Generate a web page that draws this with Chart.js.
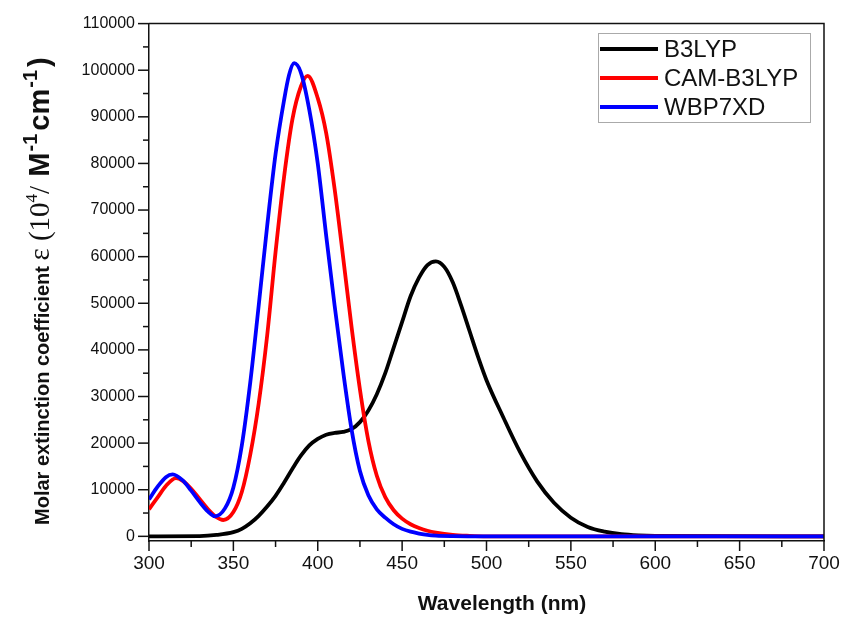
<!DOCTYPE html>
<html>
<head>
<meta charset="utf-8">
<script src="https://cdn.jsdelivr.net/npm/chart.js@4.4.1/dist/chart.umd.min.js"></script>
<style>
  body { margin: 0; background: #fff; }
</style>
</head>
<body>
<canvas id="spectra" width="841" height="617"></canvas>
<script>
// series names + colours
var seriesNames = ["B3LYP", "CAM-B3LYP", "WBP7XD"];
var seriesColors = ["#000000", "#ff0000", "#0000ff"];

// B3LYP
var wlB3 = [300, 330, 340, 350, 355, 360, 365, 370, 375, 380, 385, 390, 395, 400, 405, 410, 415, 420, 425, 430, 435, 440, 445, 450, 455, 460, 465, 470, 475, 480, 485, 490, 495, 500, 510, 520, 530, 540, 550, 560, 570, 580, 590, 600, 700];
var epsB3 = [0, 50, 300, 900, 1600, 2800, 4400, 6400, 8700, 11500, 14500, 17300, 19500, 20900, 21800, 22200, 22400, 23000, 24500, 27000, 30500, 35000, 40500, 46000, 51500, 55500, 58200, 59000, 57800, 54500, 49500, 44000, 38500, 33500, 25500, 18000, 11800, 7200, 4000, 2000, 1000, 450, 200, 100, 0];

// CAM-B3LYP
var wlCam = [300, 305, 310, 316, 320, 325, 330, 335, 340, 344, 350, 355, 360, 365, 370, 375, 380, 385, 390, 394, 400, 405, 410, 415, 420, 425, 430, 435, 440, 445, 450, 455, 460, 465, 470, 480, 490, 500, 700];
var epsCam = [5800, 8300, 10800, 12500, 11900, 10200, 8000, 5800, 4100, 3500, 5200, 9500, 17500, 28500, 43000, 61000, 77000, 89500, 96500, 98800, 94000, 86500, 74500, 60000, 45000, 31500, 20500, 13000, 8400, 5600, 3800, 2600, 1800, 1200, 800, 300, 100, 0, 0];

// WBP7XD
var wlWb = [300, 305, 310, 314, 320, 325, 330, 335, 339, 345, 350, 355, 360, 365, 370, 375, 380, 383, 386, 390, 395, 400, 405, 410, 415, 420, 425, 430, 435, 440, 445, 450, 455, 460, 465, 470, 480, 500, 700];
var epsWb = [7900, 10600, 12700, 13300, 12000, 9800, 7400, 5300, 4300, 6000, 10500, 19500, 33000, 49500, 66500, 82000, 93500, 99000, 101500, 99500, 91500, 80000, 64500, 49500, 35500, 23000, 14000, 8800, 5800, 4000, 2600, 1600, 1000, 600, 300, 150, 50, 0, 0];

// axis ticks
var xTicks = [300, 350, 400, 450, 500, 550, 600, 650, 700];
var yTicks = [0, 10000, 20000, 30000, 40000, 50000, 60000, 70000, 80000, 90000, 100000, 110000];

function pts(xs, ys) {
  return xs.map(function (x, i) { return { x: x, y: ys[i] }; });
}

var sans = "'Liberation Sans', Arial, sans-serif";
var serif = "'Liberation Serif', 'Times New Roman', serif";

// tick marks, frame, legend and titles
var decor = {
  id: 'decor',
  afterDraw: function (chart) {
    var ctx = chart.ctx;
    var a = chart.chartArea;
    var xs = chart.scales.x, ys = chart.scales.y;
    ctx.save();
    ctx.strokeStyle = '#111';
    ctx.lineWidth = 1.5;
    // frame
    ctx.beginPath();
    ctx.moveTo(a.left, a.top); ctx.lineTo(a.right, a.top); ctx.lineTo(a.right, a.bottom);
    ctx.stroke();
    // y ticks
    for (var v = 0; v <= 110000; v += 5000) {
      var py = ys.getPixelForValue(v);
      var len = v % 10000 === 0 ? 11 : 6;
      ctx.beginPath(); ctx.moveTo(a.left - len, py); ctx.lineTo(a.left, py); ctx.stroke();
    }
    // x ticks
    for (var w = 300; w <= 700; w += 25) {
      var px = xs.getPixelForValue(w);
      var l2 = w % 50 === 0 ? 10 : 6;
      ctx.beginPath(); ctx.moveTo(px, a.bottom); ctx.lineTo(px, a.bottom + l2); ctx.stroke();
    }

    // legend
    ctx.lineWidth = 1;
    ctx.strokeStyle = '#aaa';
    ctx.strokeRect(598.5, 33.5, 212, 89);
    ctx.font = '24px ' + sans;
    ctx.textBaseline = 'middle';
    ctx.textAlign = 'left';
    chart.data.datasets.forEach(function (ds, i) {
      var ly = 49 + i * 29;
      ctx.strokeStyle = ds.borderColor;
      ctx.lineWidth = 4;
      ctx.beginPath(); ctx.moveTo(600, ly); ctx.lineTo(658, ly); ctx.stroke();
      ctx.fillStyle = '#111';
      ctx.fillText(ds.label, 664, ly + 1);
    });

    // x title
    ctx.font = 'bold 21px ' + sans;
    ctx.textAlign = 'center';
    ctx.fillStyle = '#111';
    ctx.fillText('Wavelength (nm)', 502, 604);

    // y title, mixed fonts with superscripts  [text, font, raise, gap after]
    var parts = [
      ['Molar extinction coefficient ', 'bold 20px ' + sans, 0, 0],
      ['\u03b5 (10', '29px ' + serif, 0, 0],
      ['4', '17px ' + serif, -12, 0],
      ['/ ', '29px ' + serif, 0, 2],
      ['M', 'bold 29px ' + sans, 0, 1],
      ['-1', 'bold 20px ' + sans, -12, 3],
      ['cm', 'bold 29px ' + sans, 0, 1],
      ['-1', 'bold 20px ' + sans, -12, 3],
      [')', 'bold 29px ' + sans, 0, 0]
    ];
    ctx.translate(40, 525);
    ctx.rotate(-Math.PI / 2);
    ctx.textAlign = 'left';
    ctx.textBaseline = 'alphabetic';
    var cx = 0;
    parts.forEach(function (p) {
      ctx.font = p[1];
      ctx.fillText(p[0], cx, 9 + p[2]);
      cx += ctx.measureText(p[0]).width + p[3];
    });
    ctx.restore();
  }
};

var chart = new Chart(document.getElementById('spectra'), {
  type: 'line',
  data: {
    datasets: [
      { label: seriesNames[0], data: pts(wlB3, epsB3), borderColor: seriesColors[0], order: 3 },
      { label: seriesNames[1], data: pts(wlCam, epsCam), borderColor: seriesColors[1], order: 2 },
      { label: seriesNames[2], data: pts(wlWb, epsWb), borderColor: seriesColors[2], order: 1 }
    ]
  },
  options: {
    responsive: false,
    animation: false,
    elements: {
      line: { borderWidth: 3.8, fill: false, cubicInterpolationMode: 'monotone' },
      point: { radius: 0 }
    },
    layout: { padding: { top: 22, right: 17, left: 0, bottom: 0 } },
    plugins: { legend: { display: false }, tooltip: { enabled: false } },
    scales: {
      x: {
        type: 'linear',
        min: 300, max: 700,
        afterBuildTicks: function (s) { s.ticks = xTicks.map(function (v) { return { value: v }; }); },
        afterFit: function (s) { s.height = 76; s.paddingLeft = 0; s.paddingRight = 0; },
        ticks: { font: { size: 19, family: sans }, color: '#111', padding: 11, maxRotation: 0,
          callback: function (v) { return String(v); } },
        grid: { display: false, drawTicks: false },
        border: { display: true, color: '#111', width: 1.5 }
      },
      y: {
        min: -1000, max: 110000,
        afterBuildTicks: function (s) { s.ticks = yTicks.map(function (v) { return { value: v }; }); },
        afterFit: function (s) { s.width = 149; },
        ticks: { font: { size: 16, family: sans }, color: '#111', padding: 14,
          callback: function (v) { return String(v); } },
        grid: { display: false, drawTicks: false },
        border: { display: true, color: '#111', width: 1.5 }
      }
    }
  },
  plugins: [decor]
});
</script>
</body>
</html>
